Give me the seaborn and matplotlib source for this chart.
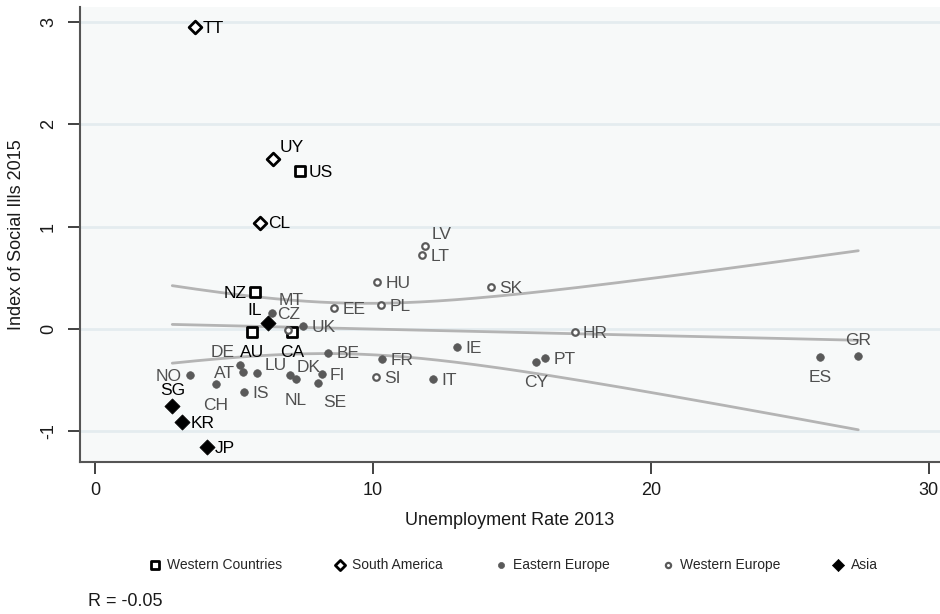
import numpy as np
import pandas as pd
import seaborn as sns
import matplotlib
matplotlib.use("Agg")
import matplotlib.pyplot as plt

# Unemployment rate 2013 (x) and index of social ills 2015 (y), by country group
western_countries = ["NZ", "AU", "CA", "US"]
western_countries_x = [5.76, 5.64, 7.10, 7.37]
western_countries_y = [0.36, -0.03, -0.03, 1.54]

south_america = ["TT", "UY", "CL"]
south_america_x = [3.58, 6.40, 5.94]
south_america_y = [2.95, 1.66, 1.04]

eastern_europe = ["MT", "UK", "BE", "DE", "AT", "LU", "NO", "CH", "IS", "DK",
                  "NL", "FI", "SE", "FR", "IE", "IT", "CY", "PT", "ES", "GR"]
eastern_europe_x = [6.35, 7.50, 8.39, 5.22, 5.34, 5.84, 3.42, 4.35, 5.37, 7.01,
                    7.22, 8.15, 8.01, 10.33, 13.03, 12.15, 15.86, 16.19, 26.10, 27.46]
eastern_europe_y = [0.16, 0.03, -0.23, -0.35, -0.42, -0.43, -0.45, -0.54, -0.62, -0.45,
                    -0.49, -0.44, -0.53, -0.29, -0.18, -0.485, -0.32, -0.28, -0.27, -0.26]

western_europe = ["CZ", "LV", "LT", "HU", "SK", "EE", "PL", "SI", "HR"]
western_europe_x = [6.95, 11.87, 11.77, 10.15, 14.23, 8.61, 10.29, 10.10, 17.26]
western_europe_y = [-0.01, 0.81, 0.72, 0.46, 0.41, 0.205, 0.23, -0.47, -0.03]

asia = ["IL", "SG", "KR", "JP"]
asia_x = [6.21, 2.78, 3.14, 4.02]
asia_y = [0.06, -0.75, -0.91, -1.155]

x_ticks = [0, 10, 20, 30]
y_ticks = [-1, 0, 1, 2, 3]

# Clock position of each marker label (default: 3 o'clock)
label_clock = {"NZ": 9, "IL": 11, "AU": 6, "CA": 6, "MT": 1, "CZ": 12,
               "DE": 11, "AT": 9, "LU": 2, "NO": 9, "CH": 6, "DK": 2, "NL": 6,
               "SE": 5, "CY": 6, "ES": 6, "GR": 12, "SG": 12, "UY": 1, "LV": 1}

sns.set_theme(style="white")
plt.rcParams["font.family"] = ["Liberation Sans", "DejaVu Sans"]
plt.rcParams["axes.unicode_minus"] = False

fig = plt.figure(figsize=(9.4, 6.14), dpi=100)
ax = fig.add_axes([80 / 940, 1 - 462 / 614, 860 / 940, 455 / 614])
ax.set_facecolor("#f7f9f9")

# Linear fit with 95% confidence interval of the mean
all_x = np.array(western_countries_x + south_america_x + eastern_europe_x
                 + western_europe_x + asia_x)
all_y = np.array(western_countries_y + south_america_y + eastern_europe_y
                 + western_europe_y + asia_y)
n = len(all_x)
slope, intercept = np.polyfit(all_x, all_y, 1)
resid = all_y - (slope * all_x + intercept)
s = np.sqrt(np.sum(resid ** 2) / (n - 2))
sxx = np.sum((all_x - all_x.mean()) ** 2)
t_crit = 2.030  # t(0.975, n-2)
grid = np.linspace(all_x.min(), all_x.max(), 200)
fit = slope * grid + intercept
half = t_crit * s * np.sqrt(1 / n + (grid - all_x.mean()) ** 2 / sxx)
r_value = np.corrcoef(all_x, all_y)[0, 1]

line_kw = dict(color="#b4b4b4", linewidth=2.0, estimator=None, sort=False, zorder=1)
sns.lineplot(x=grid, y=fit + half, ax=ax, **line_kw)
sns.lineplot(x=grid, y=fit, ax=ax, **line_kw)
sns.lineplot(x=grid, y=fit - half, ax=ax, **line_kw)

grey = "#5a5a5a"
groups = [
    ("Western Countries", western_countries, western_countries_x, western_countries_y,
     dict(marker="s", s=50, facecolor="white", edgecolor="black", linewidth=2.0), "black"),
    ("South America", south_america, south_america_x, south_america_y,
     dict(marker="D", s=42, facecolor="white", edgecolor="black", linewidth=2.0), "black"),
    ("Eastern Europe", eastern_europe, eastern_europe_x, eastern_europe_y,
     dict(marker="o", s=30, facecolor=grey, edgecolor=grey, linewidth=0.5), "#505050"),
    ("Western Europe", western_europe, western_europe_x, western_europe_y,
     dict(marker="o", s=22, facecolor="white", edgecolor=grey, linewidth=1.6), "#505050"),
    ("Asia", asia, asia_x, asia_y,
     dict(marker="D", s=60, facecolor="black", edgecolor="black", linewidth=0.5), "black"),
]

offsets = {
    3: ((6, -1), "left", "center"),
    9: ((-6, -1), "right", "center"),
    12: ((0, 11), "center", "center"),
    6: ((0, -15), "center", "center"),
    1: ((5, 8.5), "left", "center"),
    2: ((5, 5.5), "left", "center"),
    11: ((-4, 9), "right", "center"),
    5: ((4, -14), "left", "center"),
}

for name, codes, xs, ys, style, tcolor in groups:
    df = pd.DataFrame({"x": xs, "y": ys, "code": codes})
    sns.scatterplot(data=df, x="x", y="y", ax=ax, label=name, zorder=3, **style)
    for code, xv, yv in zip(codes, xs, ys):
        (dx, dy), ha, va = offsets[label_clock.get(code, 3)]
        ax.annotate(code, (xv, yv), xytext=(dx, dy), textcoords="offset points",
                    ha=ha, va=va, fontsize=12.5, color=tcolor, zorder=4)

ax.set_xlim(-0.54, 30.4)
ax.set_ylim(-1.299, 3.145)
ax.set_xticks(x_ticks)
ax.set_yticks(y_ticks)
ax.yaxis.grid(True, color="#e4ecef", linewidth=2.0, zorder=0)
ax.xaxis.grid(False)
ax.set_axisbelow(True)

for side in ["top", "right"]:
    ax.spines[side].set_visible(False)
for side in ["left", "bottom"]:
    ax.spines[side].set_color("#555555")
    ax.spines[side].set_linewidth(1.5)

ax.tick_params(axis="both", which="major", direction="out", length=8.5, width=1.3,
               color="#333333", labelsize=13, labelcolor="#1a1a1a",
               bottom=True, left=True)
ax.tick_params(axis="x", pad=6)
ax.tick_params(axis="y", pad=8)
for lab in ax.get_yticklabels():
    lab.set_rotation(90)
    lab.set_va("center")

ax.set_xlabel("Unemployment Rate 2013", fontsize=13, color="#1a1a1a")
ax.set_ylabel("Index of Social Ills 2015", fontsize=13, color="#1a1a1a")
ax.xaxis.set_label_coords(0.5, -0.11)
ax.yaxis.set_label_coords(-0.064, 0.5)

handles, labels = ax.get_legend_handles_labels()
if ax.legend_:
    ax.legend_.remove()
fig.legend(handles, labels, loc="center", bbox_to_anchor=(0.5455, 1 - 565 / 614),
           ncol=5, frameon=False, columnspacing=3.65, handletextpad=0.4,
           handlelength=1.0, markerscale=0.8,
           prop={"family": ["Liberation Sans"], "size": 10})

fig.text(88 / 940, 1 - 601 / 614, f"R = {r_value:.2f}", ha="left", va="center",
         fontsize=13, color="#1a1a1a")

fig.savefig("out.png", dpi=100, facecolor="white")
